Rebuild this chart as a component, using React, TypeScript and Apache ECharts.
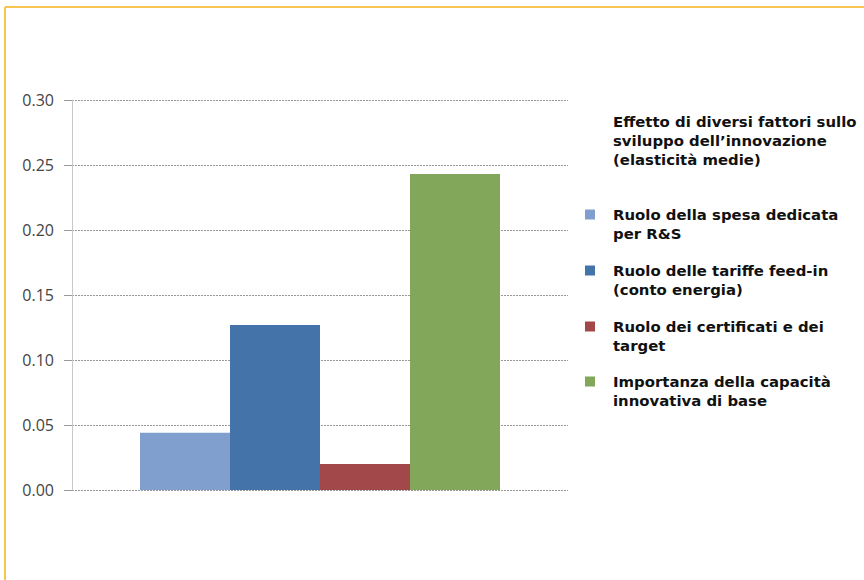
import React, { useEffect, useRef } from "react";
import * as echarts from "echarts";

const categories = [""];
const seriesNames = [
  "Ruolo della spesa dedicata\nper R&S",
  "Ruolo delle tariffe feed-in\n(conto energia)",
  "Ruolo dei certificati e dei\ntarget",
  "Importanza della capacità\ninnovativa di base",
];
const seriesValues = [0.044, 0.127, 0.02, 0.243];
const seriesColors = ["#809fcf", "#4473aa", "#a2474a", "#82a65a"];
const titleLines = [
  "Effetto di diversi fattori sullo",
  "sviluppo dell\u2019innovazione",
  "(elasticità medie)",
];
const legendTops = [207, 263, 319, 374];

const FONT = "DejaVu Sans";
const FS = 14.9;

export default function App() {
  const ref = useRef<HTMLDivElement>(null);
  useEffect(() => {
    if (!ref.current) return;
    const chart = echarts.init(ref.current, undefined, { renderer: "svg" });
    chart.setOption({
      animation: false,
      backgroundColor: "#ffffff",
      title: {
        text: titleLines.join("\n"),
        left: 613,
        top: 112,
        padding: 0,
        textStyle: {
          fontFamily: FONT,
          fontSize: FS,
          fontWeight: "bold",
          color: "#111",
          lineHeight: 19,
        },
      },
      legend: seriesNames.map((n, i) => ({
        data: [n],
        left: 585,
        top: legendTops[i],
        padding: 0,
        itemWidth: 10,
        itemHeight: 10,
        itemGap: 0,
        icon: "rect",
        selectedMode: false,
        formatter: (name: string) => name.split("\n")[0],
        textStyle: {
          fontFamily: FONT,
          fontSize: FS,
          fontWeight: "bold",
          color: "#111",
          padding: [0, 0, 0, 13],
        },
      })),
      grid: { left: 72, top: 100, width: 496, height: 390, containLabel: false },
      xAxis: {
        type: "category",
        data: categories,
        axisLine: { show: false },
        axisTick: { show: false },
        axisLabel: { show: false },
      },
      yAxis: {
        type: "value",
        min: 0,
        max: 0.3,
        interval: 0.05,
        axisLine: { show: true, lineStyle: { color: "#c8c8c8", width: 1 } },
        axisTick: { show: true, length: 8, lineStyle: { color: "#999" } },
        axisLabel: {
          formatter: (v: number) => v.toFixed(2),
          fontFamily: "Open Sans",
          fontSize: 16,
          color: "#444",
          margin: 18,
        },
        splitLine: { show: true, lineStyle: { color: "#999", type: [2, 1], width: 1 } },
      },
      series: seriesNames.map((n, i) => ({
        name: n,
        type: "bar",
        data: [seriesValues[i]],
        barWidth: 90,
        barGap: "0%",
        itemStyle: { color: seriesColors[i] },
      })),
      graphic: [
        { type: "line", shape: { x1: 5, y1: 7, x2: 864, y2: 7 }, style: { stroke: "#f8c650", lineWidth: 2 } },
        { type: "line", shape: { x1: 5, y1: 7, x2: 5, y2: 580 }, style: { stroke: "#f8c650", lineWidth: 2 } },
        ...seriesNames.map((n, i) => ({
          type: "text",
          left: 613,
          top: legendTops[i] + 19,
          style: {
            text: n.split("\n")[1],
            fontFamily: FONT,
            fontSize: FS,
            fontWeight: "bold",
            fill: "#111",
          },
        })),
      ],
    });
    return () => chart.dispose();
  }, []);
  return (
    <div
      ref={ref}
      style={{ position: "fixed", left: 0, top: 0, width: 864, height: 580 }}
    />
  );
}
